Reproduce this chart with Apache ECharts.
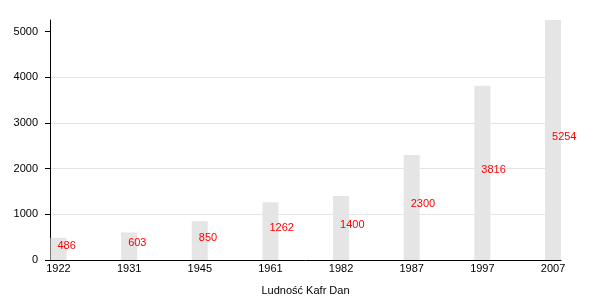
<!DOCTYPE html>
<html><head><meta charset="utf-8">
<script src="https://cdn.jsdelivr.net/npm/echarts@6/dist/echarts.min.js"></script>
<style>html,body{margin:0;padding:0;background:#fff}#c{width:600px;height:300px}</style>
</head><body><div id="c"></div>
<script>
const years = ['1922','1931','1945','1961','1982','1987','1997','2007'];
const population = [486, 603, 850, 1262, 1400, 2300, 3816, 5254];
const yTicks = [0, 1000, 2000, 3000, 4000, 5000];
const axisTitle = 'Ludność Kafr Dan';

const font = 'Liberation Sans, Arial, sans-serif';
const chart = echarts.init(document.getElementById('c'), null, {renderer: 'canvas'});
chart.setOption({
  animation: false,
  backgroundColor: '#fff',
  grid: {left: 50, right: 39, top: 20, bottom: 40, containLabel: false, outerBoundsMode: 'none'},
  xAxis: {
    type: 'value', min: -0.12, max: 7.113,
    name: axisTitle, nameLocation: 'middle', nameGap: 25,
    nameTextStyle: {color: '#000', fontSize: 11, fontFamily: font},
    axisLine: {show: true, onZero: false, lineStyle: {color: '#000', width: 1}},
    axisTick: {show: false},
    splitLine: {show: false},
    axisLabel: {
      customValues: years.map((_, i) => i),
      formatter: v => years[Math.round(v)],
      color: '#000', fontSize: 11, fontFamily: font, margin: 3
    }
  },
  yAxis: {
    type: 'value', min: 0, max: 5254, interval: 1000,
    axisLine: {show: true, onZero: false, lineStyle: {color: '#000', width: 1}},
    axisTick: {show: true, length: 5, customValues: yTicks, lineStyle: {color: '#000'}},
    splitLine: {show: true, showMaxLine: false, lineStyle: {color: '#e4e4e4', width: 1}},
    axisLabel: {customValues: yTicks, formatter: v => String(v), color: '#000', fontSize: 11, fontFamily: font, margin: 12}
  },
  series: [{
    type: 'bar',
    barWidth: 16,
    data: population.map((v, i) => [i, v]),
    itemStyle: {color: '#e5e5e5'},
    label: {
      show: true, position: ['50%', '50%'], align: 'left', verticalAlign: 'middle',
      offset: [-1, -3], color: '#ff0000', fontSize: 11, fontFamily: font,
      formatter: p => String(p.value[1])
    }
  }]
});
</script></body></html>
